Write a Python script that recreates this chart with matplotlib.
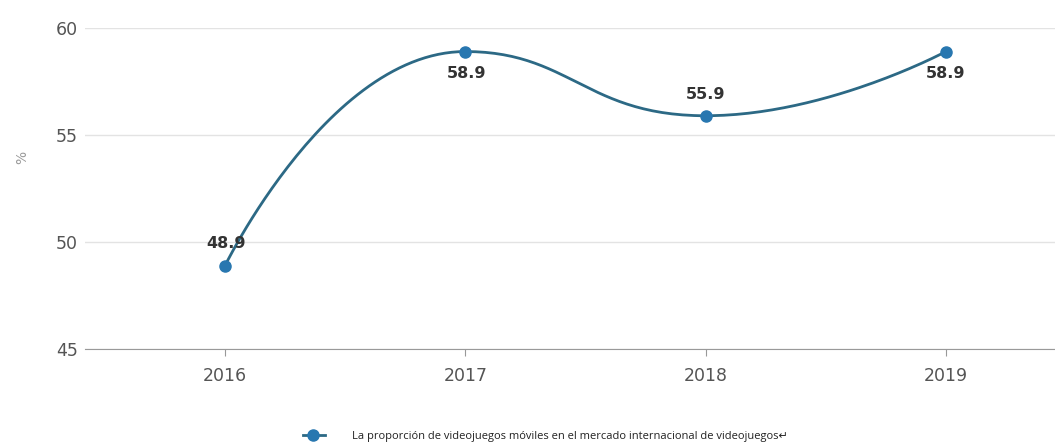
import numpy as np
import matplotlib.pyplot as plt

# datos
years = ['2016', '2017', '2018', '2019']
values = [48.9, 58.9, 55.9, 58.9]
legend_label = 'La proporción de videojuegos móviles en el mercado internacional de videojuegos'

# escala en pixeles (para el suavizado tipo echarts)
PX_X = 240.3
PX_Y = 21.4


def smooth_curve(xs, ys, smooth=0.5, n=60):
    # bezier con puntos de control recortados, como smooth: true de echarts
    P = np.column_stack([np.asarray(xs, float) * PX_X, np.asarray(ys, float) * PX_Y])
    m = len(P)
    cps = []
    for i in range(m):
        x, y = P[i]
        if i == 0 or i == m - 1:
            cps.append((P[i].copy(), P[i].copy()))
            continue
        px_, py_ = P[i - 1]
        nx, ny = P[i + 1]
        vx, vy = nx - px_, ny - py_
        lp = np.hypot(x - px_, y - py_)
        ln = np.hypot(x - nx, y - ny)
        r = ln / (ln + lp)
        c0x = x + vx * smooth * r
        c0y = y + vy * smooth * r
        c0x = max(min(c0x, max(nx, x)), min(nx, x))
        c0y = max(min(c0y, max(ny, y)), min(ny, y))
        vx, vy = c0x - x, c0y - y
        c1x = x - vx * lp / ln
        c1y = y - vy * lp / ln
        c1x = max(min(c1x, max(px_, x)), min(px_, x))
        c1y = max(min(c1y, max(py_, y)), min(py_, y))
        vx, vy = x - c1x, y - c1y
        c0x = x + vx * ln / lp
        c0y = y + vy * ln / lp
        cps.append((np.array([c1x, c1y]), np.array([c0x, c0y])))
    t = np.linspace(0, 1, n)[:, None]
    segs = []
    for i in range(m - 1):
        a, b = P[i], P[i + 1]
        c0 = cps[i][1]
        c1 = cps[i + 1][0]
        segs.append((1 - t) ** 3 * a + 3 * (1 - t) ** 2 * t * c0
                    + 3 * (1 - t) * t ** 2 * c1 + t ** 3 * b)
    pts = np.vstack(segs)
    return pts[:, 0] / PX_X, pts[:, 1] / PX_Y


x = np.arange(len(years))
cx, cy = smooth_curve(x, values)

fig = plt.figure(figsize=(10.55, 4.45), dpi=100)
ax = fig.add_axes([85 / 1055, 1 - 349 / 445, 1 - 85 / 1055, (349 - 28) / 445])

ax.plot(cx, cy, color='#2c6985', lw=2, zorder=3)
ax.plot(x, values, 'o', color='#2877b0', ms=8, zorder=4)

offsets = [(1, 16), (1, -16), (0, 15), (0, -16)]
for xi, v, off in zip(x, values, offsets):
    ax.annotate(f'{v}', (xi, v), xytext=off, textcoords='offset points',
                ha='center', va='center', fontsize=11.5, fontweight='bold',
                color='#333333', zorder=5)

ax.set_xlim(-0.583, 3.454)
ax.set_ylim(45, 60)
ax.set_yticks([45, 50, 55, 60])
ax.set_xticks(x)
ax.set_xticklabels(years)
ax.grid(axis='y', color='#e3e3e3', lw=1)
ax.set_axisbelow(True)
for s in ['top', 'right', 'left']:
    ax.spines[s].set_visible(False)
ax.spines['bottom'].set_color('#999999')
ax.tick_params(axis='y', length=0, labelsize=12.5, colors='#555555', pad=5)
ax.tick_params(axis='x', length=5, color='#999999', labelsize=12.5,
               labelcolor='#555555', pad=8)

fig.text(22 / 1055, 1 - 157 / 445, '%', rotation=90, ha='center', va='center',
         fontsize=10, color='#999999')

# leyenda
fig.lines.append(plt.Line2D([303 / 1055, 325 / 1055], [1 - 435 / 445] * 2,
                            color='#2c6985', lw=2, transform=fig.transFigure))
fig.lines.append(plt.Line2D([313 / 1055], [1 - 435 / 445], marker='o', ms=8,
                            color='#2877b0', transform=fig.transFigure))
fig.text(352 / 1055, 1 - 436 / 445, legend_label + '↵', ha='left', va='center',
         fontsize=8, family=['Open Sans', 'DejaVu Sans'], color='#222222')

fig.savefig('out.png', dpi=100)
